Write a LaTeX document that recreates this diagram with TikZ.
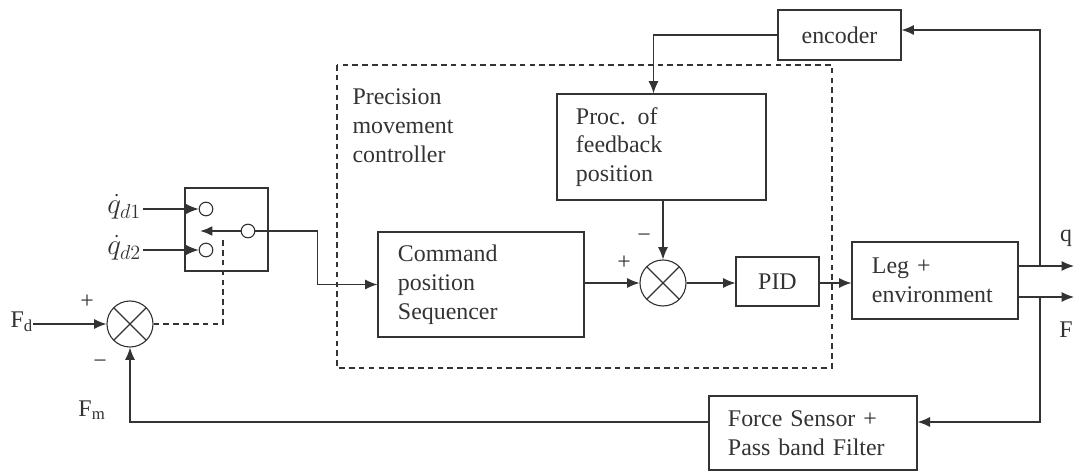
\documentclass[tikz,border=0pt]{standalone}
\usepackage{fontspec}
\setmainfont{Liberation Serif}
\usetikzlibrary{arrows.meta,positioning}

\begin{document}
\begin{tikzpicture}[x=0.025cm, y=-0.025cm, line width=0.8pt, color=black!80,
  >={Latex[length=3.1mm,width=2.5mm]},
  font=\fontsize{17}{20.5}\selectfont,
  block node/.style={draw, rectangle, inner sep=0pt, align=left},
  sum node/.style={draw, circle, minimum size=1.15cm, inner sep=0pt,
    path picture={\draw (path picture bounding box.north west) -- (path picture bounding box.south east)
      (path picture bounding box.north east) -- (path picture bounding box.south west);}},
  port node/.style={draw, circle, inner sep=0pt, minimum size=0.34cm},
  sign node/.style={font=\fontsize{17}{17}\selectfont, inner sep=0pt}]
\useasboundingbox (0,0) rectangle (1074,473);

% blocks
\node[block node, minimum width=3.075cm, minimum height=1.25cm, align=center] (enc) at (839.5,35) {encoder};
\node[block node, inner xsep=0.475cm, text width=4.275cm, minimum height=2.65cm] (proc) at (661.5,147) {Proc. of\\feedback\\position};
\node[block node, inner xsep=0.5cm, text width=4.15cm, minimum height=2.625cm] (cmd) at (481,284.5) {Command\\position\\Sequencer};
\node[sum node] (sum2) at (663,283) {};
\node[block node, minimum width=2.075cm, minimum height=1.225cm, align=center] (pid) at (777.5,281.5) {PID};
\node[block node, inner xsep=0.5cm, text width=3.15cm, minimum height=1.925cm] (leg) at (935,280.5) {Leg +\\environment};
\node[block node, inner xsep=0.475cm, text width=4.25cm, minimum height=1.85cm] (force) at (813,433) {Force Sensor +\\Pass band Filter};
\node[block node, minimum size=2.075cm] (switch) at (226.5,229.5) {};
\node[port node] (in1) at (206,209) {};
\node[port node] (in2) at (206,250) {};
\node[port node] (out) at (248,231) {};
\node[sum node] (sum1) at (130,324) {};

% controller frame
\draw[dashed, dash pattern=on 4pt off 3pt] (337,65) rectangle (832,368);
\node[anchor=west, align=left, inner sep=0pt] (title) at (352,126) {Precision\\movement\\controller};

% labels
\node[anchor=east, inner sep=1pt, font=\fontsize{20}{20}\selectfont] (qd1) at (143,207) {$\dot{q}_{d1}$};
\node[anchor=east, inner sep=1pt, font=\fontsize{20}{20}\selectfont] (qd2) at (143,248) {$\dot{q}_{d2}$};
\node[anchor=west, inner sep=0pt] (fd) at (10,322) {F\textsubscript{d}};
\node (fm) at (92,410) {F\textsubscript{m}};
\node (qlab) at (1066,238) {q};
\node (flab) at (1066,330) {F};
\node[sign node] (p1) at (87,302) {+};
\node[sign node] (m1) at (100,364) {−};
\node[sign node] (p2) at (624,263) {+};
\node[sign node] (m2) at (644,238) {−};

\coordinate (qend) at (1074,266);
\coordinate (fend) at (1074,297);
\coordinate (qtap) at (1040,266);
\coordinate (ftap) at (1040,297);
\coordinate (tip) at (200,231);
\coordinate (dash end) at (223,237);

% connectors
\draw[->] (enc.west) -| ([xshift=-0.2cm]proc.north);
\draw[->] (sum2 |- proc.south) -- (sum2.north);
\draw[->] (cmd.east |- sum2) -- (sum2.west);
\draw[->] (sum2.east) -- (pid.west |- sum2);
\draw[->] (pid.east |- sum2) -- (leg.west |- sum2);
\draw[->] (leg.east |- qend) -- (qend);
\draw[->] (leg.east |- fend) -- (fend);
\draw[->] (qtap) |- ([yshift=0.125cm]enc.east);
\draw[->] (ftap) |- ([yshift=0.275cm]force.east);
\draw[->] ([yshift=0.275cm]force.west) -| (sum1.south);
\draw[->] (fd.east |- sum1) -- (sum1.west);
\draw[dashed, dash pattern=on 4pt off 3pt] (sum1.east) -| (dash end);
\draw[->] (in1.west -| qd1.east) -- (in1.west);
\draw[->] (in2.west -| qd2.east) -- (in2.west);
\draw[->, line width=1.4pt] (out.west) -- (tip);
\draw[->] (out.east) -- ++(62,0) |- (cmd.west);
\end{tikzpicture}
\end{document}
